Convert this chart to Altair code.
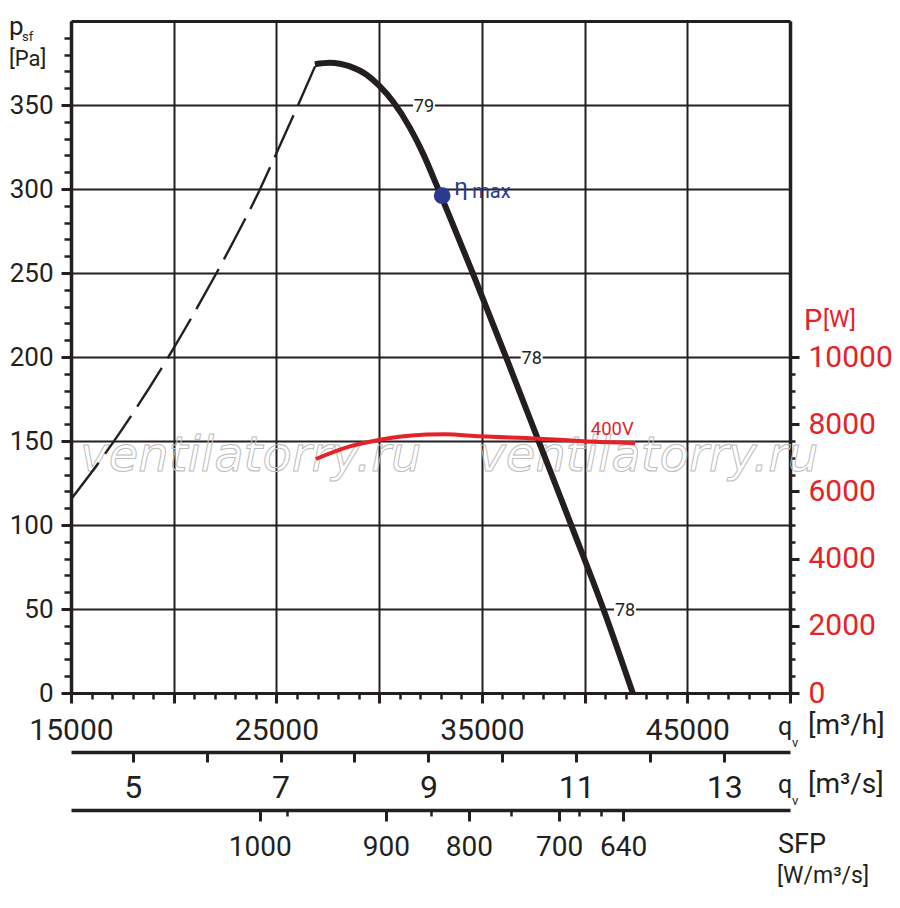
import altair as alt
import pandas as pd

# ------------------------------------------------------------------ data
# stable part of the fan curve (thick solid): flow q_v [m3/h], static pressure p_sf [Pa]
q_solid = [26870, 27600, 28575, 29390, 30000, 30684, 31500, 32145, 32797,
           33607, 34664, 36286, 37797, 39374, 40962, 42345]
p_solid = [374.3, 375.2, 373.0, 368.0, 361.5, 351.9, 336.4, 320.9, 302.3,
           278.4, 246.7, 196.5, 148.9, 99.2, 48.4, 0.0]

# unstable part (thin dashed)
q_dash = [15000, 16770, 19940, 22055, 22865, 24190, 25005, 26000, 26880]
p_dash = [115.3, 144.3, 204.1, 249.4, 267.8, 299.6, 321.4, 348.5, 373.0]

# input power P [W] (400V)
q_power = [26920, 28575, 30040, 32310, 33200, 34910, 37750, 39940, 42460]
P_power = [6964, 7339, 7539, 7690, 7700, 7640, 7570, 7495, 7440]

# best efficiency point
q_eta = [33070]
p_eta = [296]

# efficiency marks along the curve
eff_text = ["79", "78", "78"]
eff_q = [32180, 37425, 41970]
eff_p = [350, 200, 50]

# power curve label
volt_text = ["400V"]
volt_q = [41347]
volt_P = [7872]

# watermark
wm_text = ["ventilatorry.ru", "ventilatorry.ru"]
wm_q = [23753, 43085]
wm_p = [131.9, 131.9]

# axis ticks
q_major = [15000, 20000, 25000, 30000, 35000, 40000, 45000, 50000]
q_labeled = [15000, 25000, 35000, 45000]
q_minor = [v for v in range(15000, 50001, 1000) if v % 5000 != 0]
p_major = [0, 50, 100, 150, 200, 250, 300, 350]
p_minor = [v for v in range(0, 400, 10) if v % 50 != 0]
P_major = [0, 2000, 4000, 6000, 8000, 10000]
P_minor = [v for v in range(500, 10000, 500) if v % 2000 != 0]
ms_ticks = [5, 6, 7, 8, 9, 10, 11, 12, 13]
ms_labeled = [5, 7, 9, 11, 13]
sfp_labels = ["1000", "900", "800", "700", "640"]
sfp_q = [24191, 30329, 34372, 38756, 41873]
sfp_minor_q = [25507, 32522, 36419, 39732, 40803]

# ------------------------------------------------------------------ style
FONT = "Roboto"
INK = "#231f20"
RED = "#e42228"
BLUE = "#2b3990"
OX, OY = 71, 21  # page position of plot origin

xq = alt.Scale(domain=[15000, 50000], nice=False, zero=False)
yp = alt.Scale(domain=[0, 400], nice=False, zero=False)
yP = alt.Scale(domain=[0, 20000], nice=False, zero=False)
xs = alt.Scale(domain=[15000 / 3600, 50000 / 3600], nice=False, zero=False)


def ax(**kw):
    base = dict(title=None, labelFont=FONT, labelColor=INK, tickColor=INK,
                domainColor=INK, labelOverlap=False, labelFlush=False, zindex=0)
    base.update(kw)
    return alt.Axis(**base)


def ghost(df):
    return alt.Chart(df).mark_point(opacity=0, size=1)


layers = []

# main q axis, major ticks + vertical grid
layers.append(ghost(pd.DataFrame({"q": q_major})).encode(
    x=alt.X("q:Q", scale=xq, axis=ax(
        orient="bottom", values=q_major, format="d",
        labelExpr=f"indexof({q_labeled}, datum.value) >= 0 ? datum.label : ''",
        labelFontSize=30, labelPadding=12, tickSize=10, tickWidth=3,
        domainWidth=3, grid=True, gridColor=INK, gridWidth=2))))
# main q axis, minor ticks
layers.append(ghost(pd.DataFrame({"q": q_minor})).encode(
    x=alt.X("q:Q", scale=xq, axis=ax(
        orient="bottom", values=q_minor, labels=False, domain=False,
        tickSize=6, tickWidth=2.5, grid=False))))
# top border
layers.append(ghost(pd.DataFrame({"q": [15000, 50000]})).encode(
    x=alt.X("q:Q", scale=xq, axis=ax(
        orient="top", ticks=False, labels=False, domainWidth=3, grid=False))))
# p axis major + horizontal grid
layers.append(ghost(pd.DataFrame({"p": p_major})).encode(
    y=alt.Y("p:Q", scale=yp, axis=ax(
        orient="left", values=p_major, format="d", labelFontSize=26,
        labelPadding=8, tickSize=10, tickWidth=3, domainWidth=3.5,
        grid=True, gridColor=INK, gridWidth=2))))
# p axis minor
layers.append(ghost(pd.DataFrame({"p": p_minor})).encode(
    y=alt.Y("p:Q", scale=yp, axis=ax(
        orient="left", values=p_minor, labels=False, domain=False,
        tickSize=7, tickWidth=2.5, grid=False))))
# P axis (right) major
layers.append(ghost(pd.DataFrame({"P": P_major})).encode(
    y=alt.Y("P:Q", scale=yP, axis=ax(
        orient="right", values=P_major, format="d", labelFontSize=30,
        labelColor=RED, labelPadding=9, tickSize=9, tickWidth=3,
        domainWidth=3.5, grid=False))))
# P axis minor
layers.append(ghost(pd.DataFrame({"P": P_minor})).encode(
    y=alt.Y("P:Q", scale=yP, axis=ax(
        orient="right", values=P_minor, labels=False, domain=False,
        tickSize=5, tickWidth=2.5, grid=False))))
# q axis in m3/s
layers.append(ghost(pd.DataFrame({"s": ms_ticks})).encode(
    x=alt.X("s:Q", scale=xs, axis=ax(
        orient="bottom", offset=59, values=ms_ticks, format="d",
        labelExpr=f"indexof({ms_labeled}, datum.value) >= 0 ? datum.label : ''",
        labelFontSize=32, labelPadding=10, tickSize=10, tickWidth=3,
        domainWidth=3.5, grid=False))))
# SFP axis
sfp_expr = " : ".join(f"datum.value == {q} ? '{t}'" for q, t in zip(sfp_q, sfp_labels)) + " : ''"
layers.append(ghost(pd.DataFrame({"q": sfp_q})).encode(
    x=alt.X("q:Q", scale=xq, axis=ax(
        orient="bottom", offset=117, values=sfp_q, labelExpr=sfp_expr,
        labelFontSize=28, labelPadding=12, tickSize=11, tickWidth=3,
        domainWidth=3.5, grid=False))))
layers.append(ghost(pd.DataFrame({"q": sfp_minor_q})).encode(
    x=alt.X("q:Q", scale=xq, axis=ax(
        orient="bottom", offset=117, values=sfp_minor_q, labels=False,
        domain=False, tickSize=6, tickWidth=2.5, grid=False))))

# watermark
layers.append(alt.Chart(pd.DataFrame({"q": wm_q, "p": wm_p, "t": wm_text})).mark_text(
    font="DejaVu Sans", fontStyle="italic", fontSize=48, align="center",
    baseline="alphabetic", fill="white", fillOpacity=0, stroke="#bdbdbd",
    strokeWidth=1).encode(
    x=alt.X("q:Q", scale=xq, axis=None), y=alt.Y("p:Q", scale=yp, axis=None),
    text="t:N"))

# white gaps in grid behind efficiency labels
layers.append(alt.Chart(pd.DataFrame({"q": eff_q, "p": eff_p})).mark_point(
    shape="M-1,-0.3H1V0.3H-1Z", size=484, filled=True, color="white",
    opacity=1, strokeWidth=0).encode(
    x=alt.X("q:Q", scale=xq, axis=None), y=alt.Y("p:Q", scale=yp, axis=None)))

# dashed unstable curve
layers.append(alt.Chart(pd.DataFrame({"q": q_dash, "p": p_dash})).mark_line(
    color=INK, strokeWidth=2.4, strokeDash=[46, 11], interpolate="monotone").encode(
    x=alt.X("q:Q", scale=xq, axis=None), y=alt.Y("p:Q", scale=yp, axis=None)))

# solid fan curve
layers.append(alt.Chart(pd.DataFrame({"q": q_solid, "p": p_solid})).mark_line(
    color=INK, strokeWidth=6, interpolate="monotone", strokeCap="butt").encode(
    x=alt.X("q:Q", scale=xq, axis=None), y=alt.Y("p:Q", scale=yp, axis=None)))

# power curve
layers.append(alt.Chart(pd.DataFrame({"q": q_power, "P": P_power})).mark_line(
    color=RED, strokeWidth=4, interpolate="monotone").encode(
    x=alt.X("q:Q", scale=xq, axis=None), y=alt.Y("P:Q", scale=yP, axis=None)))

# 400V label
layers.append(alt.Chart(pd.DataFrame({"q": volt_q, "P": volt_P, "t": volt_text})).mark_text(
    font=FONT, fontSize=18.5, color=RED, align="center", baseline="middle").encode(
    x=alt.X("q:Q", scale=xq, axis=None), y=alt.Y("P:Q", scale=yP, axis=None),
    text="t:N"))

# efficiency labels
layers.append(alt.Chart(pd.DataFrame({"q": eff_q, "p": eff_p, "t": eff_text})).mark_text(
    font=FONT, fontSize=18, color=INK, align="center", baseline="middle", dy=2).encode(
    x=alt.X("q:Q", scale=xq, axis=None), y=alt.Y("p:Q", scale=yp, axis=None),
    text="t:N"))

# best efficiency point and its label
eta_df = pd.DataFrame({"q": q_eta, "p": p_eta})
layers.append(alt.Chart(eta_df).mark_circle(size=280, color=BLUE, opacity=1).encode(
    x=alt.X("q:Q", scale=xq, axis=None), y=alt.Y("p:Q", scale=yp, axis=None)))
layers.append(alt.Chart(eta_df).mark_text(
    text="η", font=FONT, fontSize=24, color=BLUE, align="left",
    baseline="alphabetic", dx=12, dy=-1).encode(
    x=alt.X("q:Q", scale=xq, axis=None), y=alt.Y("p:Q", scale=yp, axis=None)))
layers.append(alt.Chart(eta_df).mark_text(
    text="max", font=FONT, fontSize=20, color=BLUE, align="left",
    baseline="alphabetic", dx=30, dy=2).encode(
    x=alt.X("q:Q", scale=xq, axis=None), y=alt.Y("p:Q", scale=yp, axis=None)))


# axis titles (page coordinates of the reference layout)
def title(text, size, color, x, y):
    return alt.Chart(pd.DataFrame({"t": [text]})).mark_text(
        font=FONT, fontSize=size, color=color, align="left", baseline="alphabetic"
    ).encode(x=alt.value(x - OX), y=alt.value(y - OY), text="t:N")


layers += [
    title("p", 26, INK, 9, 34.5),
    title("sf", 13, INK, 22, 40.5),
    title("[Pa]", 22, INK, 9, 65.5),
    title("P", 29, RED, 804, 330),
    title("[W]", 23, RED, 823, 327),
    title("q", 25, INK, 778, 735),
    title("v", 13, INK, 792, 746.5),
    title("[m³/h]", 28, INK, 808, 734),
    title("q", 25, INK, 778, 793),
    title("v", 13, INK, 792, 804.5),
    title("[m³/s]", 28, INK, 808, 792.5),
    title("SFP", 27, INK, 778, 853),
    title("[W/m³/s]", 23, INK, 777, 883),
]

chart = alt.layer(*layers).resolve_scale(
    x="independent", y="independent"
).properties(
    width=719, height=672,
    autosize=alt.AutoSizeParams(type="none"),
    padding={"left": 63, "top": 13, "right": 102, "bottom": 200},
    background="white",
).configure_view(stroke=None)

chart.save("out.html", embed_options={"renderer": "svg", "actions": False})
